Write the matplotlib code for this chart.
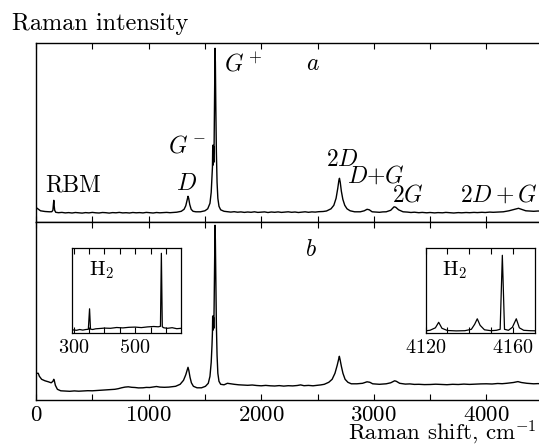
import matplotlib
matplotlib.use("Agg")
import matplotlib.pyplot as plt
from matplotlib.ticker import FixedLocator

plt.rcParams.update({
    "font.family": "serif",
    "font.serif": ["cmr10"],
    "mathtext.fontset": "cm",
    "axes.unicode_minus": False,
    "axes.formatter.use_mathtext": True,
    "axes.linewidth": 1.0,
})

# spectrum a (upper panel): Raman shift, intensity (arb. units)
shift_a = [10, 40, 80, 120, 140, 150, 155, 158, 161, 166, 175, 200, 230, 260, 290,
           320, 350, 380, 410, 440, 470, 500, 530, 560, 590, 620, 650, 680, 710,
           740, 770, 800, 830, 860, 890, 920, 950, 980, 1010, 1040, 1070, 1100,
           1130, 1160, 1190, 1220, 1250,
           1290, 1315, 1330, 1342, 1350, 1356, 1365, 1378, 1395, 1420, 1460, 1500,
           1525, 1545, 1556, 1563, 1567, 1569, 1570, 1571, 1572, 1573, 1574, 1576,
           1579, 1582, 1586, 1590,
           1593, 1597, 1602, 1608, 1615, 1625, 1640, 1670, 1700, 1730, 1760, 1790,
           1820, 1850, 1880, 1910, 1940, 1970, 2000, 2030, 2060, 2090, 2120, 2150,
           2180, 2210, 2240, 2270, 2300, 2330, 2360, 2390, 2420, 2450, 2480, 2510,
           2550, 2580,
           2620, 2645, 2665, 2680, 2690, 2695, 2702, 2712, 2725, 2742, 2762, 2790,
           2830, 2880, 2915, 2940, 2960, 2985, 3020, 3050, 3080, 3110, 3150, 3180,
           3195, 3220, 3260, 3300, 3330, 3360, 3400, 3430, 3470, 3500, 3540, 3570,
           3610, 3640, 3680, 3710, 3750, 3780, 3820, 3850, 3890, 3920, 3960, 3990,
           4030, 4060, 4100, 4150, 4200, 4250, 4285, 4310, 4350, 4390, 4420, 4460,
           4500]
int_a = [14, 11.5, 10.8, 10.5, 10.6, 12, 18, 22, 17, 12, 10, 9.6, 9.9, 9.4, 9.7,
         9.3, 9.8, 9.5, 9.2, 9.7, 9.4, 9.9, 9.5, 9.3, 9.8, 9.6, 9.2, 9.7, 9.5,
         9.9, 9.4, 9.6, 9.3, 9.8, 9.5, 9.7, 9.4, 9.9, 9.6, 9.3, 9.8, 9.5,
         9.7, 9.9, 9.6, 9.8, 10.1,
         11, 13, 16.5, 22, 26, 24, 18, 13, 11, 10.5, 10.5, 11.5,
         13.5, 19, 30, 45, 55, 72, 57, 77, 58, 77, 62, 76,
         60, 80, 125, 174,
         160, 115, 70, 40, 24, 16, 12.5, 11, 10.6, 10.2, 10.6, 10.1,
         10.4, 9.9, 10.3, 10, 10.5, 9.9, 10.2, 10.4, 9.8, 10.3, 10, 10.4,
         9.9, 10.2, 10.5, 10, 10.3, 9.8, 10.2, 10.5, 10, 10.4, 10.2, 10.6,
         10.8, 11.3,
         13.5, 17, 24, 34, 42, 44, 40, 31, 23, 17, 13.5, 11.5,
         10.5, 10.5, 11.5, 13, 12.5, 10.5, 10.2, 10, 10.4, 10.5, 12, 15.5,
         15, 12.5, 10.5, 10.2, 9.8, 10.1, 9.6, 9.9, 9.5, 9.8, 9.4, 9.7,
         9.5, 9.9, 9.6, 9.3, 9.7, 9.5, 9.8, 9.6, 9.9, 9.7, 10, 9.8,
         10.2, 10, 10.2, 10.5, 11.5, 13, 14, 13, 11.5, 11.2, 11, 11.3,
         11]

# spectrum b (lower panel)
shift_b = [10, 20, 30, 50, 80, 110, 135, 150, 158, 163, 172, 190, 220, 260, 300,
           340, 380, 420, 460, 500, 540, 580, 620, 660, 700, 730, 760, 790, 820,
           850, 880, 910, 950, 980, 1010, 1040, 1070, 1100, 1140, 1180, 1210,
           1240, 1280,
           1310, 1330, 1342, 1350, 1357, 1368, 1380, 1398, 1430, 1470, 1505, 1530,
           1545, 1556, 1563, 1567, 1569, 1570, 1571, 1572, 1573, 1574, 1576, 1579,
           1582, 1586, 1590, 1593,
           1597, 1602, 1608, 1615, 1625, 1640, 1670, 1700, 1730, 1760, 1800, 1840,
           1880, 1920, 1960, 2000, 2040, 2080, 2120, 2160, 2200, 2240, 2280, 2320,
           2350, 2380, 2420, 2460, 2500, 2530, 2560, 2600, 2630, 2655, 2675,
           2688, 2694, 2700, 2712, 2726, 2745, 2770, 2800, 2850, 2900, 2940, 2965,
           2990, 3020, 3050, 3080, 3110, 3150, 3185, 3200, 3230, 3280, 3320, 3360,
           3400, 3450, 3500, 3550, 3600, 3650, 3700, 3750,
           3800, 3850, 3900, 3950, 4000, 4050, 4100, 4140, 4180, 4240, 4280, 4310,
           4360, 4420, 4460, 4500]
int_b = [27, 27, 24, 21, 19.5, 18.5, 17.5, 19, 21, 19.5, 15, 11, 9.5, 9.2, 9,
         9.4, 9.1, 9.3, 9.6, 9.5, 9.8, 10, 10.3, 10.6, 11, 11.6, 12.5, 13.2, 13.5,
         13, 12.8, 12.4, 12.5, 12.9, 12.8, 13.3, 13.8, 13.2, 13, 13.2, 13.6,
         14, 16,
         20, 25.5, 30, 33, 30, 23, 17.5, 14, 12.5, 12.5, 14, 17,
         24, 38, 55, 68, 84, 70, 84, 71, 84, 73, 83, 72,
         95, 140, 175, 160,
         118, 75, 45, 27, 19, 16, 15.5, 17, 16.5, 16, 15.5, 15.2,
         15, 15.3, 14.8, 14.5, 14.9, 14.5, 14.3, 14.7, 14.2, 14.6, 14.4, 14.8,
         15.4, 14.6, 14.9, 14.5, 15, 15.4, 16, 18, 21, 27, 35,
         41, 44, 41, 34, 27, 21, 18, 16.5, 16.5, 17, 18.5, 18,
         16.5, 16.2, 16, 16.3, 16.5, 17.5, 19.5, 19, 17, 16.2, 16.4, 15.9,
         16, 15.7, 15.8, 16.1, 15.8, 15.6, 16, 15.8,
         16.2, 15.9, 16.2, 16.4, 16.5, 16.3, 16.8, 16.6, 17, 17.8, 18.7, 17.8,
         17, 16.5, 16.7, 16.2]

# inset: H2 rotational lines
shift_h2_rot = [296, 310, 320, 330, 340, 348, 352, 355, 362, 372, 385, 400, 420,
                440, 460, 480, 500, 520, 540, 560, 575, 582, 585, 588, 593, 605,
                620, 635, 650]
int_h2_rot = [3.5, 3, 3.8, 3.2, 3.8, 4, 24.5, 4.2, 3.8, 4.5, 4.8, 5.2, 5,
              5.8, 5.4, 6, 6.2, 5.7, 6.4, 6.8, 6.5, 7, 80, 6.5, 5.5, 5,
              5.6, 4.6, 5]

# inset: H2 vibrational Q-branch
shift_h2_vib = [4120, 4122, 4124.5, 4126, 4127.5, 4130, 4134, 4138, 4141, 4142.5,
                4143.7, 4145, 4147, 4150, 4152.5, 4154.2, 4155.2, 4156.2, 4158,
                4159.8, 4161.6, 4163, 4165, 4168, 4170]
int_h2_vib = [2.5, 3, 5.5, 11, 5, 2.8, 2.4, 2.6, 4, 9,
              14.5, 8, 3.5, 2.6, 3, 4, 78, 4, 3,
              6, 14.5, 5.5, 3, 2.6, 2.5]

W, H = 539, 444
fig = plt.figure(figsize=(W / 100, H / 100), dpi=100)


def frac(x0, y0, x1, y1):
    return [x0 / W, 1 - y1 / H, (x1 - x0) / W, (y1 - y0) / H]


ax_a = fig.add_axes(frac(36, 43.3, 542.7, 222.3))
ax_b = fig.add_axes(frac(36, 222.3, 542.7, 400.3))

for ax in (ax_a, ax_b):
    ax.set_xlim(0, 4500)
    ax.xaxis.set_major_locator(FixedLocator([0, 1000, 2000, 3000, 4000]))
    ax.xaxis.set_minor_locator(FixedLocator([500, 1500, 2500, 3500]))
    ax.tick_params(axis="x", which="both", direction="in", top=True, bottom=True,
                   length=4, width=0.8, labelsize=16.5, pad=4)
    ax.set_yticks([])

ax_a.set_ylim(0, 179)
ax_b.set_ylim(0, 178)
ax_a.tick_params(axis="x", labelbottom=False)
ax_a.plot(shift_a, int_a, color="black", lw=1.0)
ax_b.plot(shift_b, int_b, color="black", lw=1.0)

fs = 17
ax_a.text(1670, 158, r"$G^+$", fontsize=fs, ha="left", va="center")
ax_a.text(2455, 158, r"$a$", fontsize=fs, ha="center", va="center")
ax_a.text(1170, 76, r"$G^-$", fontsize=fs, ha="left", va="center")
ax_a.text(1341, 38, r"$D$", fontsize=fs, ha="center", va="center")
ax_a.text(85, 37, "RBM", fontsize=fs, ha="left", va="center")
ax_a.text(2575, 62, r"$2D$", fontsize=fs, ha="left", va="center")
ax_a.text(2765, 46, r"$D$+$G$", fontsize=fs, ha="left", va="center")
ax_a.text(3160, 27, r"$2G$", fontsize=fs, ha="left", va="center")
ax_a.text(3765, 27, r"$2D+G$", fontsize=fs, ha="left", va="center")
ax_b.text(2442, 150, r"$b$", fontsize=fs, ha="center", va="center")

fig.text(12 / W, 1 - 30 / H, "Raman intensity", fontsize=17.5, ha="left", va="baseline")
fig.text(0.995, 1 - 440 / H, r"Raman shift, cm$^{-1}$", fontsize=16.5,
         ha="right", va="baseline")

# insets
in1 = fig.add_axes(frac(72.3, 248.3, 181.4, 333.3))
in1.plot(shift_h2_rot, int_h2_rot, color="black", lw=0.9)
in1.set_xlim(296, 650)
in1.set_ylim(0, 85)
in1.xaxis.set_major_locator(FixedLocator([300, 500]))
in1.xaxis.set_minor_locator(FixedLocator([350, 400, 450, 550, 600]))

in2 = fig.add_axes(frac(425.6, 248.3, 534.6, 333.3))
in2.plot(shift_h2_vib, int_h2_vib, color="black", lw=0.9)
in2.set_xlim(4120, 4170)
in2.set_ylim(0, 85)
in2.xaxis.set_major_locator(FixedLocator([4120, 4160]))
in2.xaxis.set_minor_locator(FixedLocator([4130, 4140, 4150]))

for ax in (in1, in2):
    ax.set_yticks([])
    ax.tick_params(axis="x", which="both", direction="in", top=True, bottom=True,
                   length=4, width=0.8, labelsize=14.5, pad=4)
    for s in ax.spines.values():
        s.set_linewidth(0.9)
    ax.text(0.15, 0.745, r"$\mathrm{H}_2$", transform=ax.transAxes,
            fontsize=15, ha="left", va="center")

fig.savefig("out.png", dpi=100)
